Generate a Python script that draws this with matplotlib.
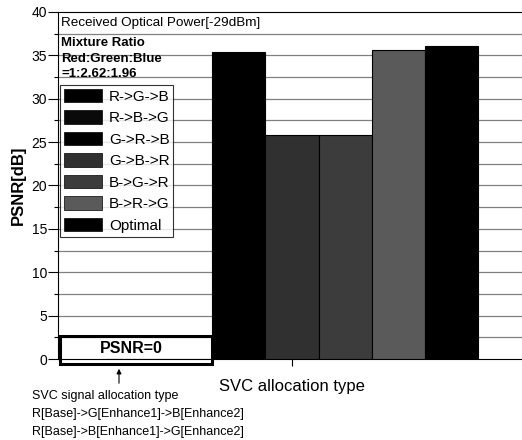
import numpy as np
import matplotlib.pyplot as plt
from matplotlib.patches import Rectangle, Patch

plt.rcParams['font.family'] = ['Liberation Sans', 'DejaVu Sans']

# SVC allocation orders and PSNR values
orders = ["R->G->B", "R->B->G", "G->R->B", "G->B->R", "B->G->R", "B->R->G", "Optimal"]
psnr = [0.0, 0.0, 35.4, 25.8, 25.8, 35.6, 36.1]
shades = ["#000000", "#0a0a0a", "#000000", "#303030", "#3c3c3c", "#5a5a5a", "#000000"]

fig = plt.figure(figsize=(5.22, 4.4), dpi=100)
ax = fig.add_axes([58 / 522, 1 - 359 / 440, 468 / 522, 347 / 440])

x = np.arange(len(orders))
ax.bar(x, psnr, width=1.0, color=shades, edgecolor="black", linewidth=0.8, zorder=3)

ax.set_xlim(-1.415, 7.415)
ax.set_ylim(0, 40)
ax.set_yticks(np.arange(0, 41, 5))
ax.set_yticks(np.arange(2.5, 40, 5), minor=True)
ax.set_xticks([3])
ax.set_xticklabels([""])
ax.tick_params(axis="y", which="major", length=7, width=0.8, labelsize=10, pad=1, direction="out")
ax.tick_params(axis="y", which="minor", length=3, width=0.8)
ax.tick_params(axis="x", length=5, width=0.8)
ax.spines["right"].set_visible(False)

# horizontal grid every 2.5 dB
for g in np.arange(2.5, 40, 2.5):
    ax.axhline(g, color="#808080", linewidth=0.9, zorder=1)

ax.set_ylabel("PSNR[dB]", fontsize=12, fontweight="bold", labelpad=4)
ax.set_xlabel("SVC allocation type", fontsize=12, labelpad=6)

# header band
ax.text(-1.35, 38.75, "Received Optical Power[-29dBm]", fontsize=9.7, va="center", ha="left", zorder=4)
ax.text(-1.35, 36.4, "Mixture Ratio", fontsize=9.5, fontweight="bold", va="center", zorder=4)
ax.text(-1.35, 34.6, "Red:Green:Blue", fontsize=9.5, fontweight="bold", va="center", zorder=4)
ax.text(-1.35, 32.85, "=1:2.62:1.96", fontsize=9.5, fontweight="bold", va="center", zorder=4)

# legend
handles = [Patch(facecolor=c, edgecolor="black", linewidth=0.5) for c in shades]
leg = ax.legend(handles, orders, loc="upper left", bbox_to_anchor=(60 / 522, 1 - 85 / 440),
                bbox_transform=fig.transFigure, fontsize=11, frameon=True, fancybox=False,
                handlelength=2.5, handleheight=1.0, handletextpad=0.45, labelspacing=0.42,
                borderpad=0.25, borderaxespad=0)
leg.get_frame().set_edgecolor("black")
leg.get_frame().set_linewidth(0.8)
leg.set_zorder(5)

# zero PSNR box for the first two orders
box = Rectangle((-1.37, -0.58), 2.87, 3.23, fill=False, edgecolor="black", linewidth=2.2,
                clip_on=False, zorder=6)
ax.add_patch(box)
ax.text(-0.04, 1.25, "PSNR=0", fontsize=11.5, fontweight="bold", ha="center", va="center", zorder=6)

ax.annotate("", xy=(119 / 522, 1 - 366 / 440), xytext=(119 / 522, 1 - 386 / 440),
            xycoords="figure fraction", textcoords="figure fraction",
            arrowprops=dict(arrowstyle="-|>", color="black", lw=0.8, mutation_scale=7))

note = ["SVC signal allocation type",
        "R[Base]->G[Enhance1]->B[Enhance2]",
        "R[Base]->B[Enhance1]->G[Enhance2]"]
for i, line in enumerate(note):
    fig.text(32 / 522, 1 - (396 + 18 * i) / 440, line, fontsize=9, va="center", ha="left")

fig.savefig("out.png", dpi=100)
